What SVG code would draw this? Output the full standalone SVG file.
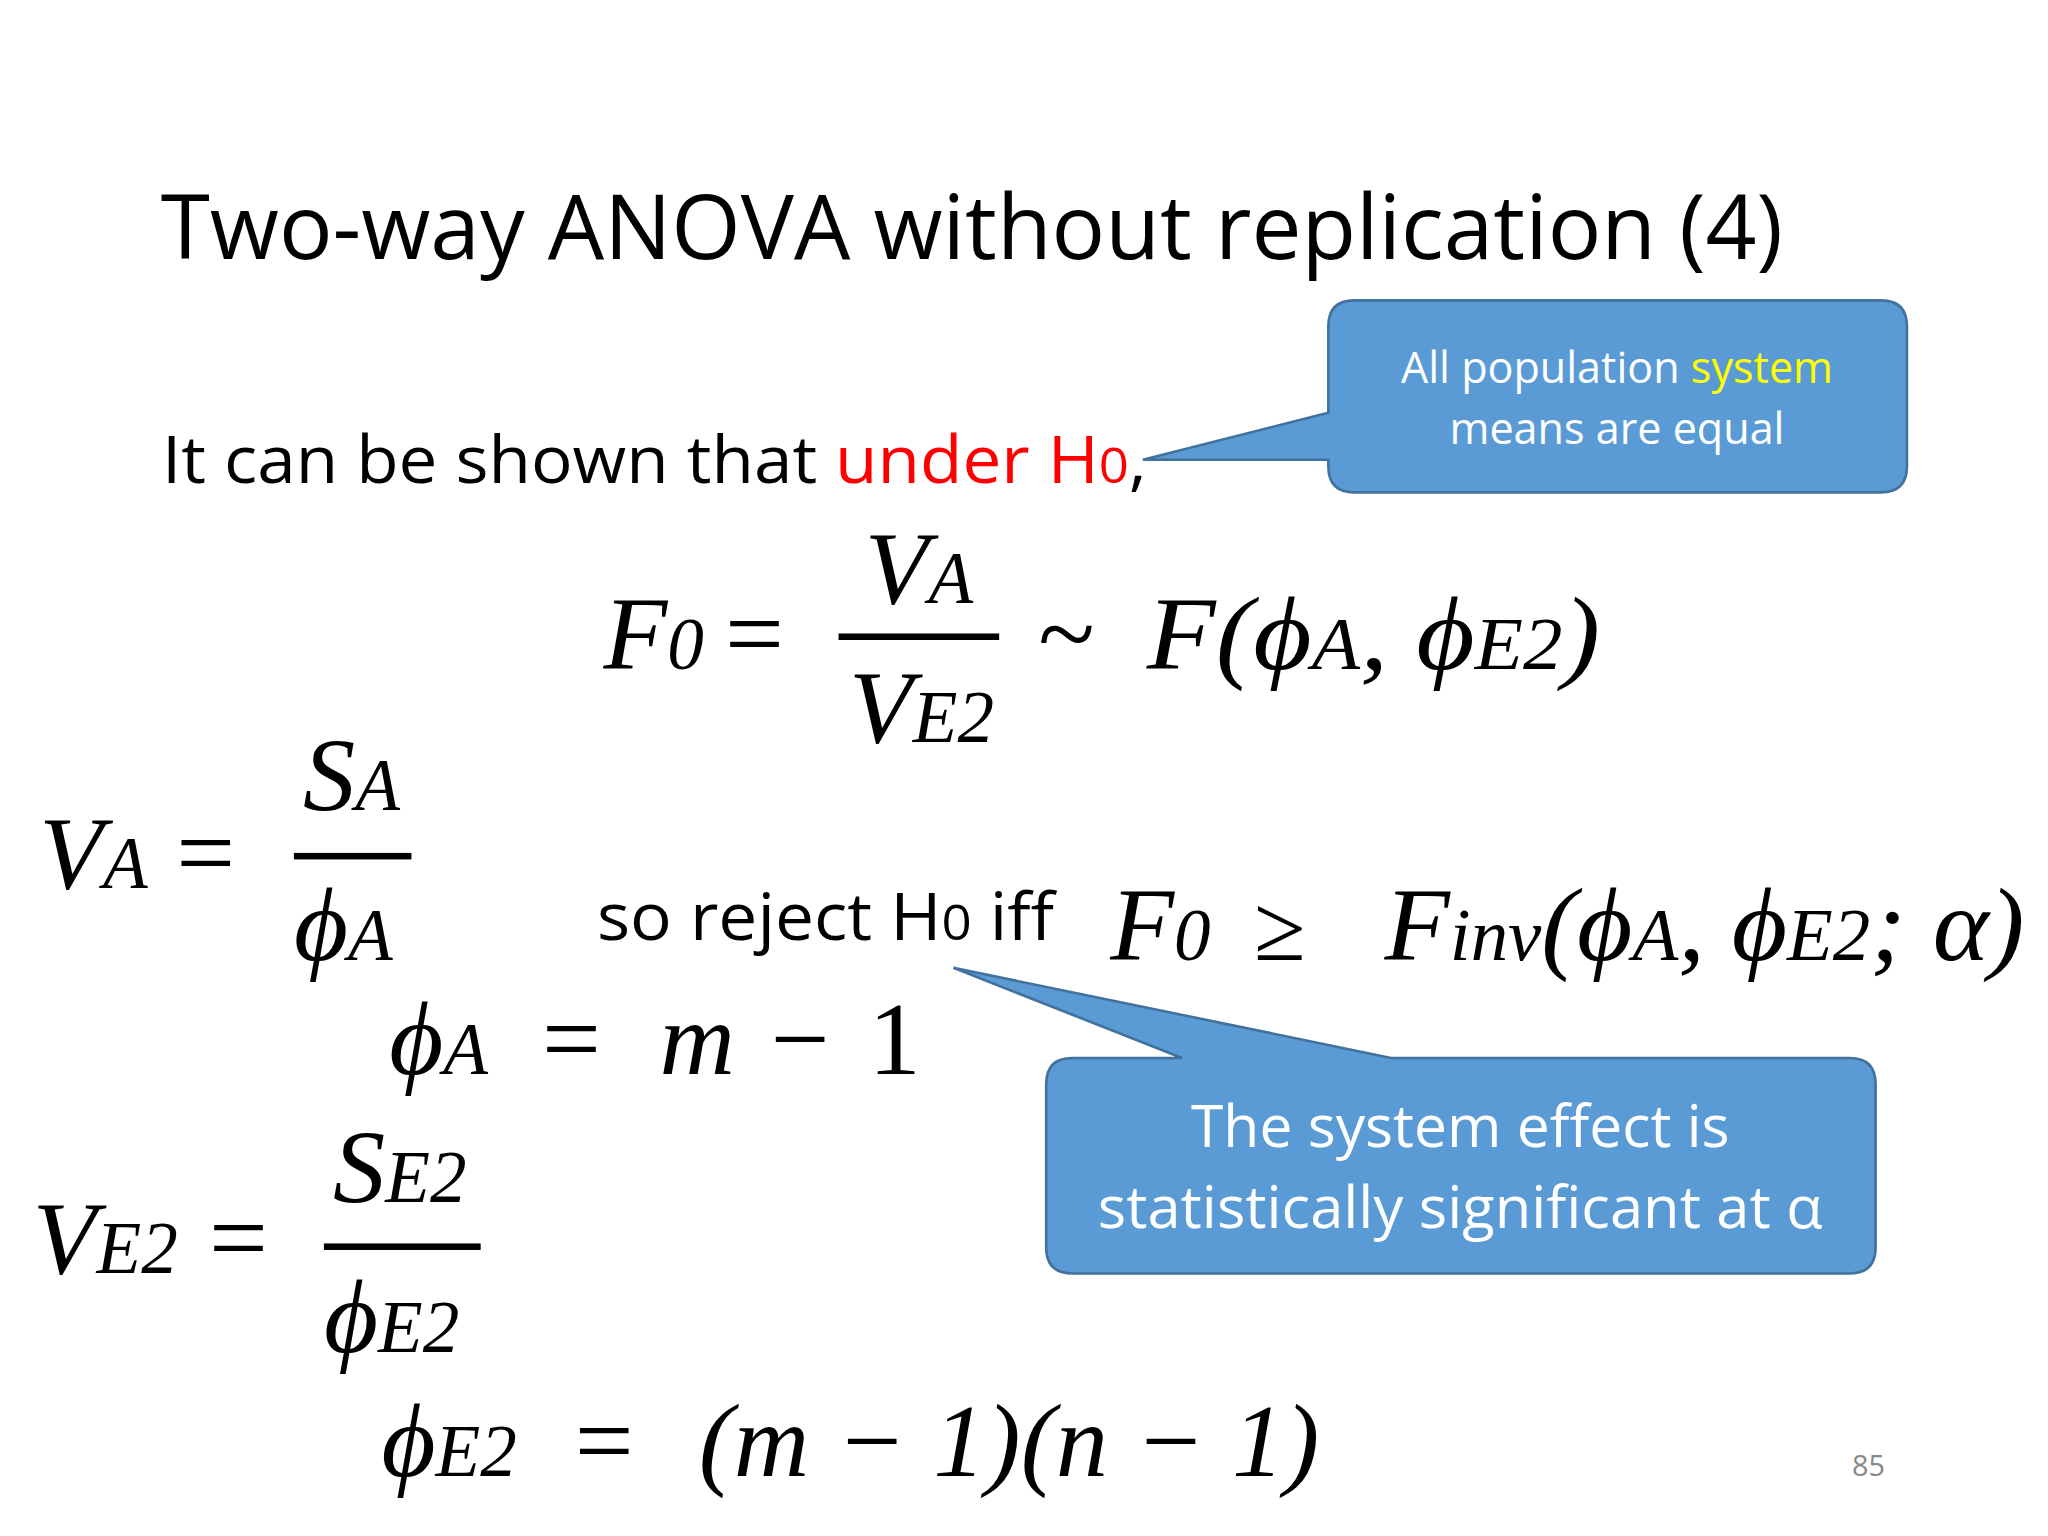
<svg xmlns="http://www.w3.org/2000/svg" width="2048" height="1536" viewBox="0 0 2048 1536">
<style>
.t{font-family:"Open Sans","Noto Sans",sans-serif;fill:#000}
.m{font-family:"Liberation Serif",serif;font-style:italic;fill:#000}
.r{font-family:"Liberation Serif",serif;fill:#000}
.sub{font-size:0.7em}
.call{fill:#5b9bd5;stroke:#41719c;stroke-width:2}
.ct{font-family:"Open Sans","Noto Sans",sans-serif;fill:#fff;text-anchor:middle}
</style>
<rect width="2048" height="1536" fill="#fff"/>
<g transform="scale(1.30612)">
<g id="title"><text class="t" x="123" y="198" font-size="68" textLength="1242" lengthAdjust="spacingAndGlyphs">Two-way ANOVA without replication (4)</text></g>
<g id="intro"><text class="t" x="124" y="370" font-size="50" textLength="754" lengthAdjust="spacingAndGlyphs">It can be shown that <tspan fill="#ff0000">under H<tspan font-size="38">0</tspan></tspan>,</text></g>
<g id="callout1">
<path class="call" d="M1037,230 H1440 Q1460,230 1460,250 V357 Q1460,377 1440,377 H1037 Q1017,377 1017,357 V352 L875,352 L1017,316 V250 Q1017,230 1037,230 Z"/>
<text class="ct" x="1238" y="293" font-size="33">All population <tspan fill="#ffff00">system</tspan></text>
<text class="ct" x="1238" y="340" font-size="33">means are equal</text>
</g>
<g id="callout2">
<path class="call" d="M821,810 H905 L730,741 L1065,810 H1416 Q1436,810 1436,830 V955 Q1436,975 1416,975 H821 Q801,975 801,955 V830 Q801,810 821,810 Z"/>
<text class="ct" x="1118" y="878" font-size="45">The system effect is</text>
<text class="ct" x="1118" y="940" font-size="45" textLength="555" lengthAdjust="spacingAndGlyphs">statistically significant at α</text>
</g>
<g id="reject"><text class="t" x="457" y="720" font-size="50" textLength="350" lengthAdjust="spacingAndGlyphs">so reject H<tspan font-size="38">0</tspan> iff</text></g>
<g id="eqF0">
<text class="m" x="462" y="512" font-size="80">F<tspan class="r" font-size="56">0</tspan></text>
<text class="r" x="555" y="512" font-size="80">=</text>
<text class="m" x="662" y="462" font-size="80">V<tspan font-size="56">A</tspan></text>
<rect x="642" y="485" width="123" height="5"/>
<text class="m" x="650" y="568" font-size="80">V<tspan font-size="56">E<tspan class="r">2</tspan></tspan></text>
<text class="r" x="795" y="512" font-size="80">~</text>
<text class="m" x="878" y="512" font-size="80" textLength="347" lengthAdjust="spacingAndGlyphs">F<tspan class="r">(</tspan>ϕ<tspan font-size="56">A</tspan><tspan class="r">, </tspan>ϕ<tspan font-size="56">E<tspan class="r">2</tspan></tspan><tspan class="r">)</tspan></text>
</g>
<g id="eqVA">
<text class="m" x="30" y="680" font-size="80">V<tspan font-size="56">A</tspan></text>
<text class="r" x="135" y="680" font-size="80">=</text>
<text class="m" x="232" y="620" font-size="80">S<tspan font-size="56">A</tspan></text>
<rect x="225" y="653" width="90" height="5"/>
<text class="m" x="225" y="735" font-size="80">ϕ<tspan font-size="56">A</tspan></text>
</g>
<g id="eqInv">
<text class="m" x="850" y="735" font-size="80">F<tspan class="r" font-size="56">0</tspan></text>
<text class="r" x="960" y="735" font-size="72">≥</text>
<text class="m" x="1060" y="735" font-size="80" textLength="490" lengthAdjust="spacingAndGlyphs">F<tspan font-size="56">inv</tspan><tspan class="r">(</tspan>ϕ<tspan font-size="56">A</tspan><tspan class="r">, </tspan>ϕ<tspan font-size="56">E<tspan class="r">2</tspan></tspan><tspan class="r">; </tspan>α<tspan class="r">)</tspan></text>
</g>
<g id="eqphiA">
<text class="m" x="298" y="822" font-size="80">ϕ<tspan font-size="56">A</tspan></text>
<text class="r" x="415" y="822" font-size="80">=</text>
<text class="m" x="505" y="822" font-size="80">m</text>
<text class="r" x="590" y="822" font-size="80">−</text>
<text class="r" x="665" y="822" font-size="80">1</text>
</g>
<g id="eqVE2">
<text class="m" x="25" y="975" font-size="80">V<tspan font-size="56">E<tspan class="r">2</tspan></tspan></text>
<text class="r" x="160" y="975" font-size="80">=</text>
<text class="m" x="255" y="920" font-size="80">S<tspan font-size="56">E<tspan class="r">2</tspan></tspan></text>
<rect x="248" y="952" width="120" height="5"/>
<text class="m" x="248" y="1035" font-size="80">ϕ<tspan font-size="56">E<tspan class="r">2</tspan></tspan></text>
</g>
<g id="eqphiE2">
<text class="m" x="292" y="1130" font-size="80">ϕ<tspan font-size="56">E<tspan class="r">2</tspan></tspan></text>
<text class="r" x="440" y="1130" font-size="80">=</text>
<text class="m" x="535" y="1130" font-size="80" textLength="475" lengthAdjust="spacing"><tspan class="r">(</tspan>m <tspan class="r">− 1)(</tspan>n <tspan class="r">− 1)</tspan></text>
</g>
<g id="page"><text class="t" x="1418" y="1130" font-size="22" fill="#888" style="fill:#888">85</text></g>
</g>
</svg>
